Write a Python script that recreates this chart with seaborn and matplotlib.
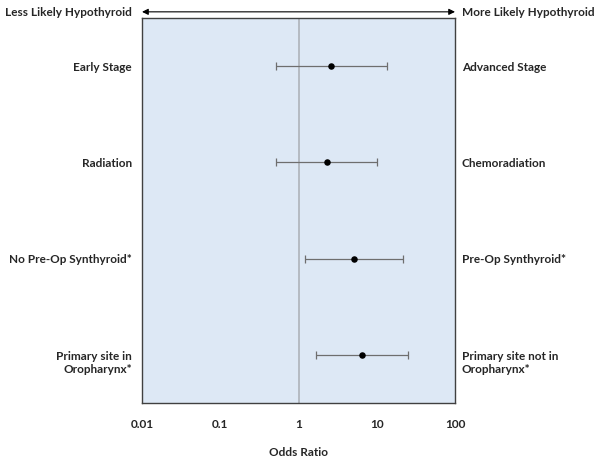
import seaborn as sns
import pandas as pd
import matplotlib.pyplot as plt
from matplotlib.transforms import blended_transform_factory

# odds ratios with 95% CI
left_labels = ['Early Stage', 'Radiation', 'No Pre-Op Synthyroid*', 'Primary site in\nOropharynx*']
right_labels = ['Advanced Stage', 'Chemoradiation', 'Pre-Op Synthyroid*', 'Primary site not in\nOropharynx*']
odds_ratio = [2.63, 2.29, 5.17, 6.54]
ci_low = [0.51, 0.51, 1.21, 1.69]
ci_high = [13.4, 10.0, 21.8, 25.1]
ticks = [0.01, 0.1, 1, 10, 100]
tick_labels = ['0.01', '0.1', '1', '10', '100']

df = pd.DataFrame({'row': range(len(odds_ratio)), 'or': odds_ratio,
                   'lo': ci_low, 'hi': ci_high})

sns.set_style('white')
plt.rcParams['font.family'] = ['Lato', 'DejaVu Sans']
plt.rcParams['font.weight'] = 'bold'

fig = plt.figure(figsize=(6.01, 4.6), dpi=100)
ax = fig.add_axes([0.2363, 0.1217, 0.5208, 0.837])
ax.set_facecolor('#dde8f5')

ax.axvline(1, color='#a9aeb5', lw=1.1, zorder=1)

ax.errorbar(df['or'], df['row'], xerr=[df['or'] - df['lo'], df['hi'] - df['or']],
            fmt='none', ecolor='#6e6e6e', elinewidth=0.9, capsize=3, capthick=0.9, zorder=2)
sns.scatterplot(data=df, x='or', y='row', color='black', s=22, edgecolor='black',
                linewidth=0, zorder=3, ax=ax, legend=False)

ax.set_xscale('log')
ax.set_xlim(0.01, 100)
ax.set_ylim(3.5, -0.5)
ax.set_xticks(ticks)
ax.set_xticklabels(tick_labels, fontsize=8.5, fontweight='bold')
ax.minorticks_off()
ax.set_yticks([])
ax.tick_params(axis='x', direction='out', length=3, width=0.9, color='#404040', pad=8)
ax.set_xlabel('Odds Ratio', fontsize=8.5, fontweight='bold', labelpad=12)
ax.set_ylabel('')

for sp in ax.spines.values():
    sp.set_color('#404040')
    sp.set_linewidth(1.0)

tr = blended_transform_factory(ax.transAxes, ax.transData)
for i, (l, r) in enumerate(zip(left_labels, right_labels)):
    off = 0.07 if '\n' in l else 0
    ax.text(-0.032, i + off, l, transform=tr, ha='right', va='center',
            fontsize=8.5, fontweight='bold', linespacing=1.25)
    ax.text(1.022, i + off, r, transform=tr, ha='left', va='center',
            fontsize=8.5, fontweight='bold', linespacing=1.25)

ax.annotate('', xy=(1, 1.016), xytext=(0, 1.016), xycoords='axes fraction',
            arrowprops=dict(arrowstyle='<|-|>', color='black', lw=0.8,
                            mutation_scale=9, shrinkA=0, shrinkB=0))
ax.text(-0.032, 1.016, 'Less Likely Hypothyroid', transform=ax.transAxes,
        ha='right', va='center', fontsize=8.5, fontweight='bold')
ax.text(1.022, 1.016, 'More Likely Hypothyroid', transform=ax.transAxes,
        ha='left', va='center', fontsize=8.5, fontweight='bold')

fig.savefig('out.png', dpi=100)
